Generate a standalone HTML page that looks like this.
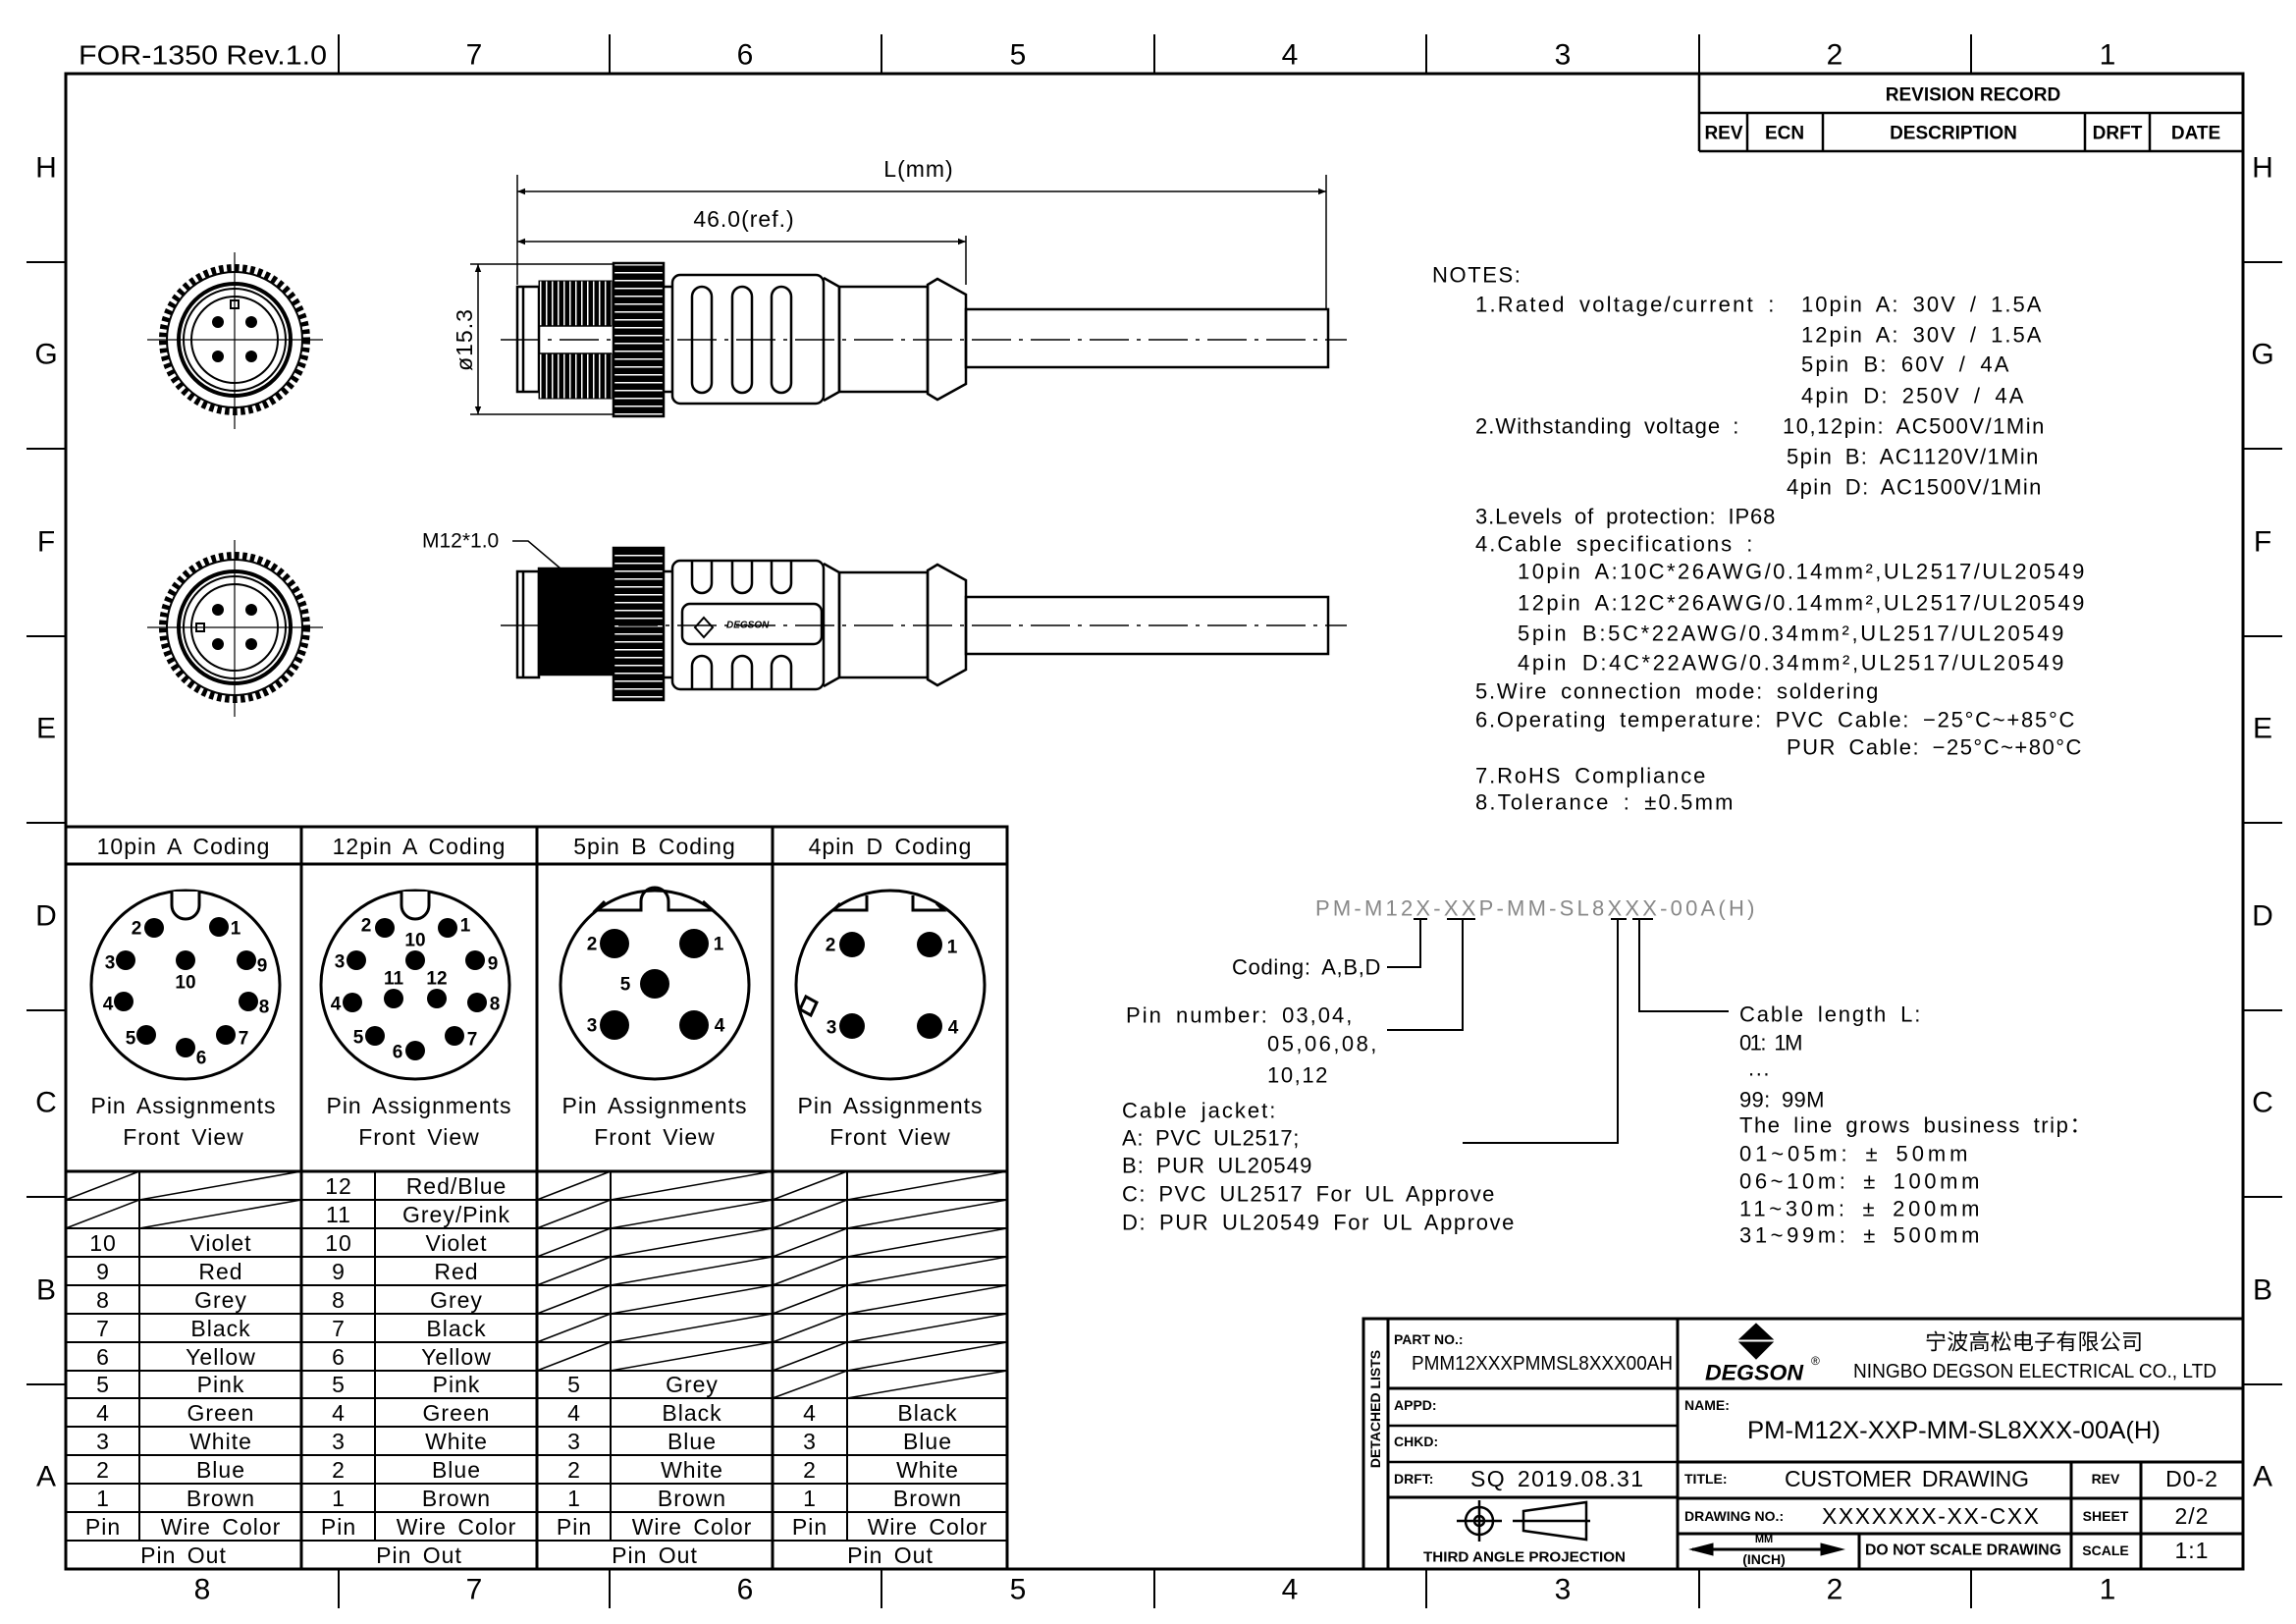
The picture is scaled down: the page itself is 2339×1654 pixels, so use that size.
<!DOCTYPE html>
<html><head><meta charset="utf-8"><style>
html,body{margin:0;padding:0;background:#fff}
svg{display:block}
text{font-family:"Liberation Sans","Noto Sans CJK SC",sans-serif;fill:#000;dominant-baseline:central}
.n{font-size:22px;letter-spacing:1.6px;word-spacing:5px}
.t{font-size:23px;letter-spacing:1px;word-spacing:4px}
.b{font-weight:bold;font-size:14px}
</style></head><body>
<svg width="2339" height="1654" viewBox="0 0 2339 1654" xmlns="http://www.w3.org/2000/svg">
<defs>
<marker id="ar" viewBox="0 0 10 10" refX="10" refY="5" markerWidth="14" markerHeight="8" orient="auto-start-reverse" markerUnits="userSpaceOnUse"><path d="M0,1 L10,5 L0,9z" fill="#000"/></marker>
<pattern id="thr" width="6" height="10" patternUnits="userSpaceOnUse"><rect width="6" height="10" fill="#000"/><rect x="4" width="1.5" height="10" fill="#fff"/></pattern>
<pattern id="knl" width="10" height="8" patternUnits="userSpaceOnUse"><rect width="10" height="8" fill="#000"/><rect y="5" width="10" height="1.5" fill="#fff"/></pattern>
</defs>
<g stroke="#000" fill="none">
<rect x="67" y="75" width="2218" height="1523" stroke-width="3"/>
<g stroke-width="2">
<path d="M345,35V75 M621,35V75 M898,35V75 M1176,35V75 M1453,35V75 M1731,35V75 M2008,35V75"/>
<path d="M345,1598V1638 M621,1598V1638 M898,1598V1638 M1176,1598V1638 M1453,1598V1638 M1731,1598V1638 M2008,1598V1638"/>
<path d="M27,267H67 M27,457H67 M27,648H67 M27,838H67 M27,1029H67 M27,1219H67 M27,1410H67"/>
<path d="M2285,267H2325 M2285,457H2325 M2285,648H2325 M2285,838H2325 M2285,1029H2325 M2285,1219H2325 M2285,1410H2325"/>
</g>
<g stroke-width="2.5"><path d="M1731,75V154 M1731,115H2285 M1731,154H2285 M1780,115V154 M1857,115V154 M2124,115V154 M2190,115V154"/></g>

<circle cx="239" cy="346" r="73" stroke-width="8" stroke-dasharray="4.5 3.5"/>
<circle cx="239" cy="346" r="69" stroke-width="2"/>
<circle cx="239" cy="346" r="57" stroke-width="4"/>
<circle cx="239" cy="346" r="52" stroke-width="2"/>
<circle cx="239" cy="346" r="44" stroke-width="2"/>
<path d="M150,346H329 M239,257V437" stroke-width="1.2"/>
<g fill="#000" stroke="none"><circle cx="222" cy="328" r="6"/><circle cx="256" cy="328" r="6"/><circle cx="222" cy="363" r="6"/><circle cx="256" cy="363" r="6"/></g>
<rect x="235" y="306" width="8" height="8" stroke-width="2"/>

<circle cx="239" cy="639" r="73" stroke-width="8" stroke-dasharray="4.5 3.5"/>
<circle cx="239" cy="639" r="69" stroke-width="2"/>
<circle cx="239" cy="639" r="57" stroke-width="4"/>
<circle cx="239" cy="639" r="52" stroke-width="2"/>
<circle cx="239" cy="639" r="44" stroke-width="2"/>
<path d="M150,639H329 M239,550V730" stroke-width="1.2"/>
<g fill="#000" stroke="none"><circle cx="222" cy="621" r="6"/><circle cx="256" cy="621" r="6"/><circle cx="222" cy="656" r="6"/><circle cx="256" cy="656" r="6"/></g>
<rect x="200" y="635" width="8" height="8" stroke-width="2"/>

<g stroke-width="2.5">
<path d="M527,178V290 M1351,178V315 M984,240V290" stroke-width="1.5"/>
<line x1="527" y1="195" x2="1351" y2="195" stroke-width="1.5" marker-start="url(#ar)" marker-end="url(#ar)"/>
<line x1="527" y1="246" x2="984" y2="246" stroke-width="1.5" marker-start="url(#ar)" marker-end="url(#ar)"/>
<path d="M479,269H625 M479,422H625" stroke-width="1.5"/>
<line x1="487" y1="269" x2="487" y2="422" stroke-width="1.5" marker-start="url(#ar)" marker-end="url(#ar)"/>
<rect x="527" y="292" width="22" height="107"/><path d="M533,292V399"/>
<rect x="549" y="286" width="74" height="46" fill="url(#thr)" stroke-width="1"/>
<rect x="549" y="360" width="74" height="46" fill="url(#thr)" stroke-width="1"/>
<path d="M549,332H623 M549,360H623" stroke-width="1.5"/>
<rect x="625" y="268" width="51" height="156" fill="url(#knl)"/>
<rect x="685" y="280" width="154" height="131" rx="8"/>
<rect x="705" y="292" width="20" height="108" rx="10"/><rect x="746" y="292" width="20" height="108" rx="10"/><rect x="786" y="292" width="20" height="108" rx="10"/>
<path d="M676,292H685 M676,399H685"/>
<path d="M839,283L855,292V399L839,408"/>
<rect x="855" y="292" width="90" height="107"/>
<path d="M945,290L955,284L984,300V391L955,407L945,401Z"/>
<rect x="984" y="315" width="369" height="59"/>
</g>
<line x1="510" y1="346" x2="1372" y2="346" stroke-width="1.5" stroke-dasharray="40 8 4 8"/>

<g stroke-width="2.5">
<rect x="527" y="582" width="22" height="108"/><path d="M533,582V690"/>
<rect x="549" y="579" width="76" height="108" fill="#000"/>
<rect x="625" y="558" width="51" height="155" fill="url(#knl)"/>
<rect x="685" y="571" width="154" height="131" rx="8"/>
<path d="M705,571V594A10,10 0 0 0 725,594V571 M746,571V594A10,10 0 0 0 766,594V571 M786,571V594A10,10 0 0 0 806,594V571"/>
<path d="M705,702V678A10,10 0 0 1 725,678V702 M746,702V678A10,10 0 0 1 766,678V702 M786,702V678A10,10 0 0 1 806,678V702"/>
<rect x="695" y="615" width="142" height="41" rx="8" stroke-width="2.5"/>
<path d="M676,582H685 M676,690H685"/>
<path d="M839,574L855,583V690L839,699"/>
<rect x="855" y="583" width="90" height="107"/>
<path d="M945,581L955,575L984,591V682L955,698L945,692Z"/>
<rect x="984" y="608" width="369" height="58"/>
<path d="M522,551H538L571,579" stroke-width="1.5"/>
<path d="M717,629L726,639L717,649L708,639Z" stroke-width="2"/>
</g>
<line x1="510" y1="637" x2="1372" y2="637" stroke-width="1.5" stroke-dasharray="40 8 4 8"/>

<g stroke-width="2">
<path d="M1440,936H1454 M1474,936H1503 M1641,936H1657 M1663,936H1684"/>
<path d="M1447,936V985H1413 M1490,936V1049H1413 M1648,936V1164H1490 M1670,936V1030H1761"/>
</g>

<g stroke-width="3">
<rect x="67" y="842" width="959" height="756"/>
<path d="M67,880H1026 M67,1193H1026 M307,842V1598 M547,842V1598 M787,842V1598"/>
</g>
<g stroke-width="2">
<path d="M67,1222H1026 M67,1251H1026 M67,1280H1026 M67,1309H1026 M67,1338H1026 M67,1367H1026 M67,1396H1026 M67,1424H1026 M67,1453H1026 M67,1482H1026 M67,1511H1026 M67,1540H1026 M67,1569H1026"/>
<path d="M142,1193V1569 M382,1193V1569 M622,1193V1569 M863,1193V1569"/>
<path d="M67,1222L142,1193 M142,1222L307,1193 M67,1251L142,1222 M142,1251L307,1222" stroke-width="1.5"/>
<path d="M547,1222L622,1193 M622,1222L787,1193 M547,1251L622,1222 M622,1251L787,1222 M547,1280L622,1251 M622,1280L787,1251 M547,1309L622,1280 M622,1309L787,1280 M547,1338L622,1309 M622,1338L787,1309 M547,1367L622,1338 M622,1367L787,1338 M547,1396L622,1367 M622,1396L787,1367" stroke-width="1.5"/>
<path d="M787,1222L863,1193 M863,1222L1026,1193 M787,1251L863,1222 M863,1251L1026,1222 M787,1280L863,1251 M863,1280L1026,1251 M787,1309L863,1280 M863,1309L1026,1280 M787,1338L863,1309 M863,1338L1026,1309 M787,1367L863,1338 M863,1367L1026,1338 M787,1396L863,1367 M863,1396L1026,1367 M787,1424L863,1396 M863,1424L1026,1396" stroke-width="1.5"/>
</g>
<g stroke-width="3">
<circle cx="189" cy="1003" r="96"/>
<circle cx="423" cy="1003" r="96"/>
<circle cx="667" cy="1003" r="96"/>
<circle cx="907" cy="1003" r="96"/>
</g>
<g stroke-width="3">
<path d="M175,908V922A14,14 0 0 0 203,922V908" fill="#fff"/>
<path d="M409,908V922A14,14 0 0 0 437,922V908" fill="#fff"/>
<path d="M616,918L607,927H653V918A14,14 0 0 1 681,918V927H726L716,918" />
<path d="M856,920L849,927H883V912 M930,912V927H961L954,920"/>
<path d="M821,1015L832,1021L826,1034L815,1028Z"/>
</g>
<g fill="#000" stroke="none">
<circle cx="223" cy="944" r="10"/><circle cx="157" cy="945" r="10"/><circle cx="128" cy="978" r="10"/><circle cx="126" cy="1020" r="10"/><circle cx="149" cy="1054" r="10"/><circle cx="189" cy="1067" r="10"/><circle cx="230" cy="1054" r="10"/><circle cx="253" cy="1020" r="10"/><circle cx="251" cy="978" r="10"/><circle cx="189" cy="978" r="10"/>
<circle cx="456" cy="945" r="10"/><circle cx="392" cy="945" r="10"/><circle cx="423" cy="978" r="10"/><circle cx="363" cy="978" r="10"/><circle cx="484" cy="978" r="10"/><circle cx="401" cy="1017" r="10"/><circle cx="445" cy="1017" r="10"/><circle cx="359" cy="1021" r="10"/><circle cx="486" cy="1021" r="10"/><circle cx="382" cy="1055" r="10"/><circle cx="463" cy="1055" r="10"/><circle cx="423" cy="1070" r="10"/>
<circle cx="626" cy="961" r="15"/><circle cx="707" cy="961" r="15"/><circle cx="667" cy="1002" r="15"/><circle cx="626" cy="1044" r="15"/><circle cx="707" cy="1044" r="15"/>
<circle cx="868" cy="962" r="13"/><circle cx="947" cy="962" r="13"/><circle cx="868" cy="1045" r="13"/><circle cx="947" cy="1045" r="13"/>
</g>

<g stroke-width="3">
<path d="M1389,1598V1343H2285 M1414,1343V1598 M1709,1343V1598 M1414,1414H2285 M1414,1525H1709 M1709,1489H2285 M1709,1526H2285 M1709,1562H2285 M2110,1489V1598 M2181,1489V1598 M1894,1562V1598"/>
<path d="M1414,1452H1709 M1414,1489H1709" stroke-width="2.5"/>
</g>
<g stroke-width="2.5">
<circle cx="1507" cy="1549" r="14"/><circle cx="1507" cy="1549" r="5"/>
<path d="M1484,1549H1530 M1507,1528V1570 M1541,1549H1620 M1552,1539L1616,1530V1568L1552,1559Z"/>
<path d="M1724,1578H1872" stroke-width="3"/>
</g>
<path d="M1722,1578L1745,1572V1584Z M1878,1578L1855,1572V1584Z" fill="#000"/>
<path d="M1789,1348L1772,1364H1806Z M1772,1367H1806L1789,1384Z" fill="#000"/>
</g>

<text x="80" y="56" font-size="28" textLength="253" lengthAdjust="spacingAndGlyphs">FOR-1350 Rev.1.0</text>
<g font-size="30" text-anchor="middle">
<text x="483" y="56">7</text><text x="759" y="56">6</text><text x="1037" y="56">5</text><text x="1314" y="56">4</text><text x="1592" y="56">3</text><text x="1869" y="56">2</text><text x="2147" y="56">1</text>
<text x="206" y="1619">8</text><text x="483" y="1619">7</text><text x="759" y="1619">6</text><text x="1037" y="1619">5</text><text x="1314" y="1619">4</text><text x="1592" y="1619">3</text><text x="1869" y="1619">2</text><text x="2147" y="1619">1</text>
<text x="47" y="171">H</text><text x="47" y="361">G</text><text x="47" y="552">F</text><text x="47" y="742">E</text><text x="47" y="933">D</text><text x="47" y="1123">C</text><text x="47" y="1314">B</text><text x="47" y="1504">A</text>
<text x="2305" y="171">H</text><text x="2305" y="361">G</text><text x="2305" y="552">F</text><text x="2305" y="742">E</text><text x="2305" y="933">D</text><text x="2305" y="1123">C</text><text x="2305" y="1314">B</text><text x="2305" y="1504">A</text>
</g>
<g font-weight="bold" font-size="19" text-anchor="middle">
<text x="2010" y="97">REVISION RECORD</text>
<text x="1756" y="136">REV</text><text x="1818" y="136">ECN</text><text x="1990" y="136">DESCRIPTION</text><text x="2157" y="136">DRFT</text><text x="2237" y="136">DATE</text>
</g>
<text x="936" y="172" class="t" text-anchor="middle">L(mm)</text>
<text x="758" y="223" class="t" text-anchor="middle">46.0(ref.)</text>
<text class="t" transform="translate(473,346) rotate(-90)" text-anchor="middle">ø15.3</text>
<text x="430" y="551" font-size="21">M12*1.0</text>
<text x="740" y="637" font-size="10" font-weight="bold" font-style="italic">DEGSON</text>

<g class="n">
<text x="1459" y="280">NOTES:</text>
<text x="1503" y="310" textLength="306">1.Rated voltage/current :</text>
<text x="1835" y="310" textLength="246">10pin A: 30V / 1.5A</text>
<text x="1835" y="341" textLength="246">12pin A: 30V / 1.5A</text>
<text x="1835" y="371" textLength="213">5pin B: 60V / 4A</text>
<text x="1835" y="403" textLength="228">4pin D: 250V / 4A</text>
<text x="1503" y="434" textLength="270">2.Withstanding voltage :</text>
<text x="1816" y="434" textLength="268">10,12pin: AC500V/1Min</text>
<text x="1820" y="465" textLength="258">5pin B: AC1120V/1Min</text>
<text x="1820" y="496" textLength="261">4pin D: AC1500V/1Min</text>
<text x="1503" y="526" textLength="307">3.Levels of protection: IP68</text>
<text x="1503" y="554" textLength="284">4.Cable specifications :</text>
<text x="1546" y="582" textLength="579">10pin A:10C*26AWG/0.14mm²,UL2517/UL20549</text>
<text x="1546" y="614" textLength="579">12pin A:12C*26AWG/0.14mm²,UL2517/UL20549</text>
<text x="1546" y="645" textLength="558">5pin B:5C*22AWG/0.34mm²,UL2517/UL20549</text>
<text x="1546" y="675" textLength="558">4pin D:4C*22AWG/0.34mm²,UL2517/UL20549</text>
<text x="1503" y="704" textLength="412">5.Wire connection mode: soldering</text>
<text x="1503" y="733" textLength="612">6.Operating temperature: PVC Cable: −25°C~+85°C</text>
<text x="1820" y="761" textLength="302">PUR Cable: −25°C~+80°C</text>
<text x="1503" y="790" textLength="236">7.RoHS Compliance</text>
<text x="1503" y="817" textLength="264">8.Tolerance : ±0.5mm</text>
</g>

<g class="n">
<text x="1340" y="925" textLength="449" style="fill:#888">PM-M12X-XXP-MM-SL8XXX-00A(H)</text>
<text x="1255" y="985" textLength="153">Coding: A,B,D</text>
<text x="1147" y="1034" textLength="232">Pin number: 03,04,</text>
<text x="1291" y="1063" textLength="113">05,06,08,</text>
<text x="1291" y="1095" textLength="63">10,12</text>
<text x="1143" y="1131" textLength="158">Cable jacket:</text>
<text x="1143" y="1159" textLength="182">A: PVC UL2517;</text>
<text x="1143" y="1187" textLength="195">B: PUR UL20549</text>
<text x="1143" y="1216" textLength="381">C: PVC UL2517 For UL Approve</text>
<text x="1143" y="1245" textLength="401">D: PUR UL20549 For UL Approve</text>
<text x="1772" y="1033" textLength="186">Cable length L:</text>
<text x="1772" y="1062" textLength="66">01: 1M</text>
<text x="1781" y="1088">...</text>
<text x="1772" y="1120" textLength="88">99: 99M</text>
<text x="1772" y="1146" textLength="360">The line grows business trip：</text>
<text x="1772" y="1175" textLength="234">01~05m: ±  50mm</text>
<text x="1772" y="1203" textLength="246">06~10m: ±  100mm</text>
<text x="1772" y="1231" textLength="246">11~30m: ±  200mm</text>
<text x="1772" y="1258" textLength="246">31~99m: ±  500mm</text>
</g>

<g class="t" text-anchor="middle">
<text x="187" y="862">10pin A Coding</text><text x="427" y="862">12pin A Coding</text><text x="667" y="862">5pin B Coding</text><text x="907" y="862">4pin D Coding</text>
<text x="187" y="1126">Pin Assignments</text><text x="427" y="1126">Pin Assignments</text><text x="667" y="1126">Pin Assignments</text><text x="907" y="1126">Pin Assignments</text>
<text x="187" y="1158">Front View</text><text x="427" y="1158">Front View</text><text x="667" y="1158">Front View</text><text x="907" y="1158">Front View</text>
<text x="345" y="1208">12</text><text x="465" y="1208">Red/Blue</text>
<text x="345" y="1237">11</text><text x="465" y="1237">Grey/Pink</text>
<text x="105" y="1266">10</text><text x="225" y="1266">Violet</text><text x="345" y="1266">10</text><text x="465" y="1266">Violet</text>
<text x="105" y="1295">9</text><text x="225" y="1295">Red</text><text x="345" y="1295">9</text><text x="465" y="1295">Red</text>
<text x="105" y="1324">8</text><text x="225" y="1324">Grey</text><text x="345" y="1324">8</text><text x="465" y="1324">Grey</text>
<text x="105" y="1353">7</text><text x="225" y="1353">Black</text><text x="345" y="1353">7</text><text x="465" y="1353">Black</text>
<text x="105" y="1382">6</text><text x="225" y="1382">Yellow</text><text x="345" y="1382">6</text><text x="465" y="1382">Yellow</text>
<text x="105" y="1410">5</text><text x="225" y="1410">Pink</text><text x="345" y="1410">5</text><text x="465" y="1410">Pink</text><text x="585" y="1410">5</text><text x="705" y="1410">Grey</text>
<text x="105" y="1439">4</text><text x="225" y="1439">Green</text><text x="345" y="1439">4</text><text x="465" y="1439">Green</text><text x="585" y="1439">4</text><text x="705" y="1439">Black</text><text x="825" y="1439">4</text><text x="945" y="1439">Black</text>
<text x="105" y="1468">3</text><text x="225" y="1468">White</text><text x="345" y="1468">3</text><text x="465" y="1468">White</text><text x="585" y="1468">3</text><text x="705" y="1468">Blue</text><text x="825" y="1468">3</text><text x="945" y="1468">Blue</text>
<text x="105" y="1497">2</text><text x="225" y="1497">Blue</text><text x="345" y="1497">2</text><text x="465" y="1497">Blue</text><text x="585" y="1497">2</text><text x="705" y="1497">White</text><text x="825" y="1497">2</text><text x="945" y="1497">White</text>
<text x="105" y="1526">1</text><text x="225" y="1526">Brown</text><text x="345" y="1526">1</text><text x="465" y="1526">Brown</text><text x="585" y="1526">1</text><text x="705" y="1526">Brown</text><text x="825" y="1526">1</text><text x="945" y="1526">Brown</text>
<text x="105" y="1555">Pin</text><text x="225" y="1555">Wire Color</text><text x="345" y="1555">Pin</text><text x="465" y="1555">Wire Color</text><text x="585" y="1555">Pin</text><text x="705" y="1555">Wire Color</text><text x="825" y="1555">Pin</text><text x="945" y="1555">Wire Color</text>
<text x="187" y="1584">Pin Out</text><text x="427" y="1584">Pin Out</text><text x="667" y="1584">Pin Out</text><text x="907" y="1584">Pin Out</text>
</g>
<g font-size="19" font-weight="bold" text-anchor="middle">
<text x="240" y="946">1</text><text x="139" y="946">2</text><text x="112" y="981">3</text><text x="110" y="1023">4</text><text x="133" y="1058">5</text><text x="205" y="1078">6</text><text x="248" y="1058">7</text><text x="269" y="1026">8</text><text x="267" y="984">9</text><text x="189" y="1001">10</text>
<text x="474" y="943">1</text><text x="373" y="943">2</text><text x="346" y="980">3</text><text x="342" y="1023">4</text><text x="365" y="1057">5</text><text x="405" y="1072">6</text><text x="481" y="1059">7</text><text x="504" y="1023">8</text><text x="502" y="982">9</text><text x="423" y="958">10</text><text x="401" y="997">11</text><text x="445" y="997">12</text>
<text x="732" y="962">1</text><text x="603" y="962">2</text><text x="603" y="1045">3</text><text x="733" y="1045">4</text><text x="637" y="1003">5</text>
<text x="970" y="965">1</text><text x="846" y="963">2</text><text x="847" y="1047">3</text><text x="971" y="1047">4</text>
</g>

<g class="b">
<text x="1420" y="1364">PART NO.:</text>
<text x="1420" y="1431">APPD:</text><text x="1420" y="1468">CHKD:</text><text x="1420" y="1506">DRFT:</text>
<text x="1716" y="1431">NAME:</text><text x="1716" y="1506">TITLE:</text><text x="1716" y="1544">DRAWING NO.:</text>
<text x="2145" y="1506" text-anchor="middle">REV</text><text x="2145" y="1544" text-anchor="middle">SHEET</text><text x="2145" y="1579" text-anchor="middle">SCALE</text>
<text x="1900" y="1579" textLength="200" lengthAdjust="spacingAndGlyphs" font-size="16">DO NOT SCALE DRAWING</text>
<text x="1450" y="1586" textLength="206" lengthAdjust="spacingAndGlyphs" font-size="15">THIRD ANGLE PROJECTION</text>
<text x="1797" y="1568" text-anchor="middle" font-size="11">MM</text>
<text x="1797" y="1588" text-anchor="middle" font-size="14">(INCH)</text>
<text transform="translate(1401,1435) rotate(-90)" text-anchor="middle" font-size="14">DETACHED LISTS</text>
</g>
<text x="1438" y="1389" font-size="20" textLength="266" lengthAdjust="spacingAndGlyphs">PMM12XXXPMMSL8XXX00AH</text>
<text x="1737" y="1398" font-size="22" font-weight="bold" font-style="italic" textLength="100" lengthAdjust="spacingAndGlyphs">DEGSON</text>
<text x="1845" y="1386" font-size="12">®</text>
<text x="1961" y="1367" font-size="22" textLength="222">宁波高松电子有限公司</text>
<text x="1888" y="1397" font-size="20" textLength="370" lengthAdjust="spacingAndGlyphs">NINGBO DEGSON ELECTRICAL CO., LTD</text>
<text x="1780" y="1457" font-size="25" textLength="421" lengthAdjust="spacingAndGlyphs">PM-M12X-XXP-MM-SL8XXX-00A(H)</text>
<g class="t">
<text x="1498" y="1506" textLength="177">SQ 2019.08.31</text>
<text x="1818" y="1506" textLength="250">CUSTOMER DRAWING</text>
<text x="1856" y="1544" textLength="222">XXXXXXX-XX-CXX</text>
<text x="2233" y="1506" text-anchor="middle">D0-2</text>
<text x="2233" y="1544" text-anchor="middle">2/2</text>
<text x="2233" y="1579" text-anchor="middle">1:1</text>
</g>
</svg>
</body></html>
